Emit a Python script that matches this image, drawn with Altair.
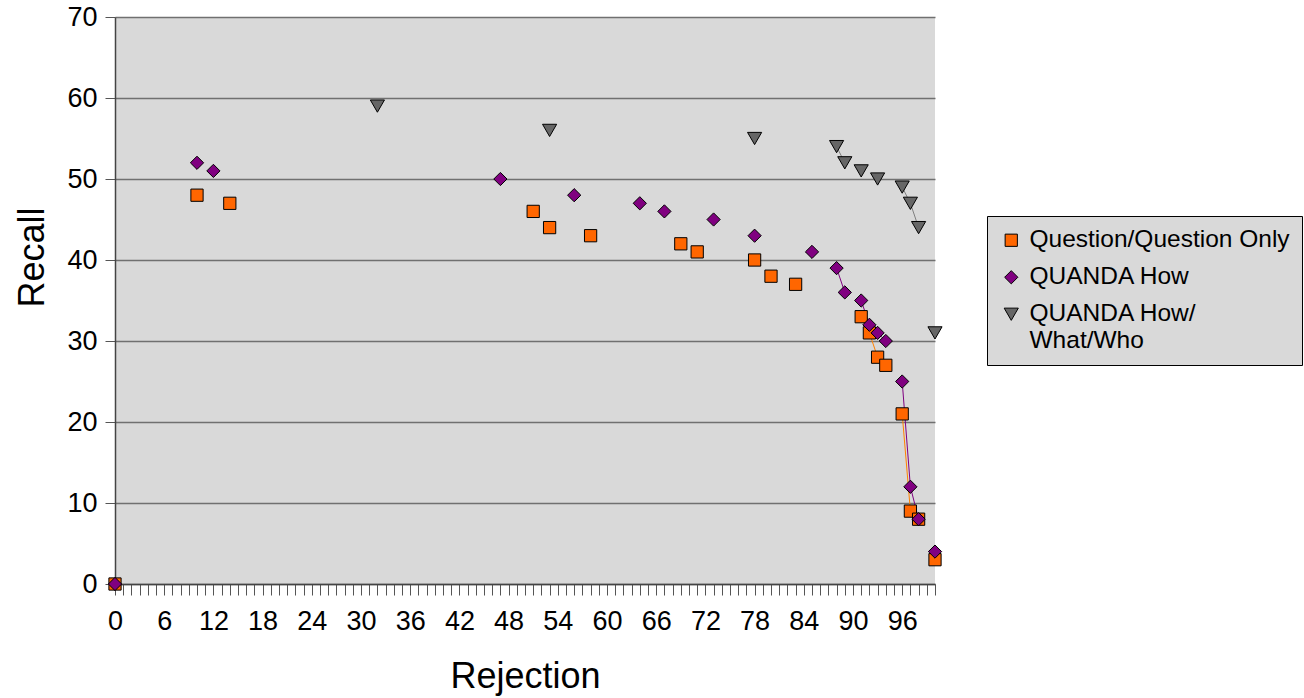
import altair as alt
import pandas as pd

series_names = ["Question/Question Only", "QUANDA How", "QUANDA How/What/Who"]
fill_colors = ["#ff6600", "#800080", "#666666"]
line_colors = ["#ff8000", "#800080", "#808080"]
shapes = ["square", "diamond", "triangle-down"]
marker_sizes = [150, 200, 210]

qq_x = [0, 10, 14, 51, 53, 58, 69, 71, 78, 80, 83, 91, 92, 93, 94, 96, 97, 98, 100]
qq_y = [0, 48, 47, 46, 44, 43, 42, 41, 40, 38, 37, 33, 31, 28, 27, 21, 9, 8, 3]

how_x = [0, 10, 12, 47, 56, 64, 67, 73, 78, 85, 88, 89, 91, 92, 93, 94, 96, 97, 98, 100]
how_y = [0, 52, 51, 50, 48, 47, 46, 45, 43, 41, 39, 36, 35, 32, 31, 30, 25, 12, 8, 4]

hww_x = [32, 53, 78, 88, 89, 91, 93, 96, 97, 98, 100]
hww_y = [59, 56, 55, 54, 52, 51, 50, 49, 47, 44, 31]

x_ticks = list(range(0, 101))
y_ticks = list(range(0, 71, 10))

rows = []
for name, lc, xs, ys in zip(series_names, line_colors, [qq_x, how_x, hww_x], [qq_y, how_y, hww_y]):
    run = 0
    prev = None
    for x, y in zip(xs, ys):
        if prev is not None and x != prev + 1:
            run += 1
        rows.append({"series": name, "rejection": x, "recall": y,
                     "run": f"{name}-{run}", "lcolor": lc})
        prev = x
df = pd.DataFrame(rows)

FONT = "Liberation Sans"

x_enc = alt.X(
    "rejection:Q",
    scale=alt.Scale(domain=[0, 100], nice=False, zero=False),
    axis=alt.Axis(
        values=x_ticks,
        labelExpr="datum.value % 6 == 0 && datum.value < 100 ? datum.label : ''",
        labelOverlap=False,
        labelFlush=False,
        labelFont=FONT, labelFontSize=27, labelColor="black", labelPadding=13,
        tickSize=11, tickColor="#555555", tickWidth=1,
        domainColor="#444444", domainWidth=1.5,
        grid=False,
        title="Rejection", titleFont=FONT, titleFontSize=36, titleFontWeight="normal",
        titleColor="black", titleX=410, titleY=103, titleBaseline="alphabetic",
        titleAlign="center", titleAnchor="middle",
    ),
)
y_enc = alt.Y(
    "recall:Q",
    scale=alt.Scale(domain=[0, 70], nice=False),
    axis=alt.Axis(
        values=y_ticks,
        labelFont=FONT, labelFontSize=27, labelColor="black", labelPadding=8,
        tickSize=10, tickColor="#555555", tickWidth=1,
        domainColor="#444444", domainWidth=1.5,
        grid=True, gridColor="#707070", gridWidth=1.5,
        title="Recall", titleFont=FONT, titleFontSize=36, titleFontWeight="normal",
        titleColor="black", titleAngle=270, titleX=-72, titleY=240,
        titleBaseline="alphabetic", titleAlign="center",
    ),
)

legend = alt.Legend(
    orient="none", legendX=872, legendY=199, title=None,
    labelFont=FONT, labelFontSize=24.5, labelColor="black", labelLimit=400,
    labelExpr="datum.label == 'QUANDA How/What/Who' ? ['QUANDA How/', 'What/Who'] : datum.label",
    fillColor="#d9d9d9", strokeColor="black", padding=12,
    symbolSize=160, symbolStrokeColor="black", symbolStrokeWidth=1,
    labelOffset=6, rowPadding=12,
)

lines = alt.Chart(df).mark_line(strokeWidth=1).encode(
    x=x_enc,
    y=y_enc,
    detail="run:N",
    order="rejection:Q",
    stroke=alt.Stroke("lcolor:N", scale=None),
)

points = alt.Chart(df).mark_point(filled=True, stroke="black", strokeWidth=1, opacity=1).encode(
    x=x_enc,
    y=y_enc,
    color=alt.Color("series:N", scale=alt.Scale(domain=series_names, range=fill_colors), legend=legend),
    shape=alt.Shape("series:N", scale=alt.Scale(domain=series_names, range=shapes), legend=legend),
    size=alt.Size("series:N", scale=alt.Scale(domain=series_names, range=marker_sizes), legend=None),
)

chart = alt.layer(lines, points).properties(
    width=820, height=567,
    autosize=alt.AutoSizeParams(type="none"),
    padding={"left": 115, "top": 17, "right": 369, "bottom": 114},
    background="white",
).configure_view(fill="#d9d9d9", strokeWidth=0)

chart.save("out.html", embed_options={"renderer": "svg", "actions": False})
